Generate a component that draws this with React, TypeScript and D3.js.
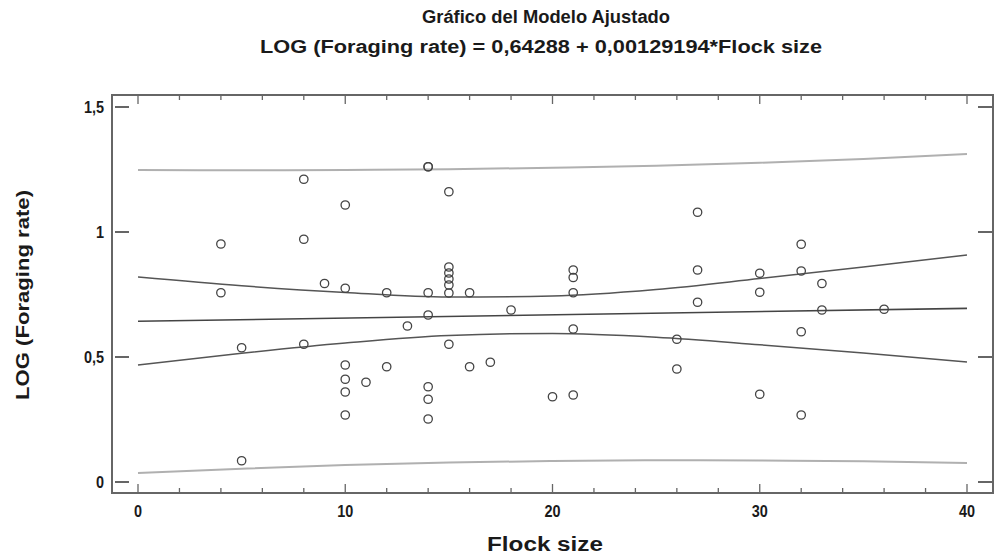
import React from "react";
import * as d3 from "d3";

const flockSize = [4, 4, 5, 5, 8, 8, 8, 9, 10, 10, 10, 10, 10, 10, 11, 12, 12, 13, 14, 14, 14, 14, 14, 14, 14, 15, 15, 15, 15, 15, 15, 15, 16, 16, 17, 18, 20, 21, 21, 21, 21, 21, 26, 26, 27, 27, 27, 30, 30, 30, 32, 32, 32, 32, 33, 33, 36];
const logRate = [0.952, 0.757, 0.537, 0.085, 1.211, 0.971, 0.551, 0.794, 1.108, 0.775, 0.468, 0.411, 0.36, 0.268, 0.399, 0.757, 0.461, 0.624, 1.261, 1.261, 0.757, 0.668, 0.381, 0.331, 0.252, 1.161, 0.86, 0.836, 0.812, 0.788, 0.756, 0.551, 0.757, 0.461, 0.479, 0.688, 0.341, 0.848, 0.818, 0.757, 0.612, 0.348, 0.571, 0.452, 1.079, 0.848, 0.719, 0.835, 0.759, 0.351, 0.951, 0.844, 0.601, 0.268, 0.794, 0.688, 0.691];

// fitted model from the title
const intercept = 0.64288;
const slope = 0.00129194;

// bands read at these x positions
const bandX = [0, 5, 10, 15, 20, 25, 30, 35, 40];
const confUpper = [0.82, 0.785, 0.758, 0.740, 0.744, 0.77, 0.814, 0.86, 0.908];
const confLower = [0.468, 0.515, 0.556, 0.586, 0.594, 0.579, 0.549, 0.516, 0.48];
const predUpper = [1.248, 1.247, 1.248, 1.251, 1.257, 1.265, 1.277, 1.292, 1.312];
const predLower = [0.036, 0.053, 0.068, 0.078, 0.084, 0.087, 0.086, 0.083, 0.076];

const xTicks = [0, 10, 20, 30, 40];
const yTicks = [0, 0.5, 1, 1.5];
const yTickLabels = ["0", "0,5", "1", "1,5"];

const title1 = "Gráfico del Modelo Ajustado";
const title2 = "LOG (Foraging rate) = 0,64288 + 0,00129194*Flock size";
const xLabel = "Flock size";
const yLabel = "LOG (Foraging rate)";

const W = 996, H = 554;
const frame = { left: 112, top: 95, right: 993, bottom: 493 };
const font = "'Liberation Sans Narrow', 'Liberation Sans', Arial, sans-serif";

export default function App() {
  const x = d3.scaleLinear().domain([0, 40]).range([138, 967]);
  const y = d3.scaleLinear().domain([0, 1.5]).range([482, 107]);

  const band = (vals: number[]) =>
    d3.line<number>()
      .x((_, i) => x(bandX[i]))
      .y((d) => y(d))
      .curve(d3.curveMonotoneX)(vals) || "";

  const minorTicks = d3.range(0, 41, 2);

  return (
    <svg width={W} height={H} style={{ position: "absolute", left: 0, top: 0, background: "#fff" }}>
      <g fontFamily={font} fontWeight="bold" fill="#1a1a1a">
        <text x={546} y={23} textAnchor="middle" fontSize={18} textLength={248} lengthAdjust="spacingAndGlyphs">{title1}</text>
        <text x={541} y={53} textAnchor="middle" fontSize={18} textLength={562} lengthAdjust="spacingAndGlyphs">{title2}</text>
      </g>

      <rect x={frame.left} y={frame.top} width={frame.right - frame.left} height={frame.bottom - frame.top}
        fill="none" stroke="#666" strokeWidth={2} />

      {minorTicks.map((t) => {
        const len = t % 10 === 0 ? 9 : 5;
        return (
          <g key={t} stroke="#666" strokeWidth={1.3}>
            <line x1={x(t)} x2={x(t)} y1={frame.top} y2={frame.top + len} />
            <line x1={x(t)} x2={x(t)} y1={frame.bottom} y2={frame.bottom - len} />
          </g>
        );
      })}
      {yTicks.map((t) => (
        <g key={t} stroke="#666" strokeWidth={2}>
          <line x1={frame.left + 3} x2={frame.left + 17} y1={y(t)} y2={y(t)} />
          <line x1={frame.right - 15} x2={frame.right} y1={y(t)} y2={y(t)} />
        </g>
      ))}

      <g fontFamily={font} fontWeight="bold" fill="#1a1a1a" fontSize={17}>
        {xTicks.map((t) => (
          <text key={t} x={x(t)} y={517} textAnchor="middle" transform={`translate(${x(t)},0) scale(0.85,1) translate(${-x(t)},0)`}>{t}</text>
        ))}
        {yTicks.map((t, i) => (
          <text key={t} x={104} y={y(t) + 6} textAnchor="end" transform={`translate(104,0) scale(0.85,1) translate(-104,0)`}>{yTickLabels[i]}</text>
        ))}
        <text x={545} y={551} textAnchor="middle" fontSize={20} textLength={116} lengthAdjust="spacingAndGlyphs">{xLabel}</text>
        <text transform="translate(29,295) rotate(-90)" textAnchor="middle" fontSize={19} textLength={210} lengthAdjust="spacingAndGlyphs">{yLabel}</text>
      </g>

      <path d={band(predUpper)} fill="none" stroke="#b0b0b0" strokeWidth={2} />
      <path d={band(predLower)} fill="none" stroke="#b0b0b0" strokeWidth={2} />
      <path d={band(confUpper)} fill="none" stroke="#555" strokeWidth={1.5} />
      <path d={band(confLower)} fill="none" stroke="#555" strokeWidth={1.5} />
      <line x1={x(0)} x2={x(40)} y1={y(intercept)} y2={y(intercept + slope * 40)} stroke="#444" strokeWidth={1.6} />

      {flockSize.map((f, i) => (
        <circle key={i} cx={x(f)} cy={y(logRate[i])} r={4.2} fill="none" stroke="#444" strokeWidth={1.3} />
      ))}
    </svg>
  );
}
